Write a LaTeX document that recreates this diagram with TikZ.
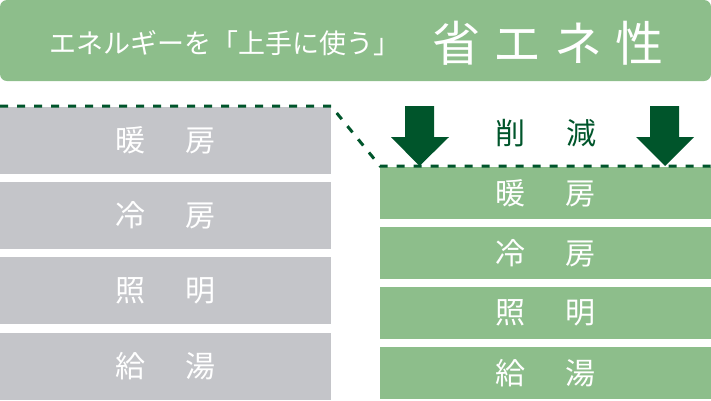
\documentclass[tikz,border=0pt]{standalone}
\usepackage{fontspec}
\setmainfont{Noto Sans CJK JP}
\definecolor{leaf}{HTML}{8DBE8B}
\definecolor{ash}{HTML}{C4C5C9}
\definecolor{pine}{HTML}{00552B}
\newcommand{\wide}{\hspace{41pt}}
\newcommand{\tsp}{\hspace{13pt}}

\begin{document}
\begin{tikzpicture}[x=1pt,y=-1pt,
  usebox/.style={fill=ash, text=white, minimum width=331pt, minimum height=67pt,
    inner sep=0pt, font=\fontsize{30}{30}\selectfont},
  cutbox/.style={fill=leaf, text=white, minimum width=331pt, minimum height=52pt,
    inner sep=0pt, font=\fontsize{30}{30}\selectfont},
  downarrow/.style={fill=pine}]
  \useasboundingbox (0,0) rectangle (711,400);
  \fill[leaf, rounded corners=7pt] (0,0) rectangle (711,81);
  \node[text=white, font=\fontsize{27}{27}\selectfont] (lead) at (225,43) {エネルギーを「上手に使う」};
  \node[text=white, font=\fontsize{48}{48}\selectfont] (title) at (548,43) {省\tsp エ\tsp ネ\tsp 性};
  \node[usebox] (heatA) at (165.5,140.5) {暖\wide 房};
  \node[usebox] (coolA) at (165.5,215.5) {冷\wide 房};
  \node[usebox] (lightA) at (165.5,290.5) {照\wide 明};
  \node[usebox] (waterA) at (165.5,366.5) {給\wide 湯};
  \node[cutbox] (heatB) at (545.5,193) {暖\wide 房};
  \node[cutbox] (coolB) at (545.5,253) {冷\wide 房};
  \node[cutbox] (lightB) at (545.5,313) {照\wide 明};
  \node[cutbox] (waterB) at (545.5,373) {給\wide 湯};
  \node[text=pine, font=\fontsize{30}{30}\selectfont] (cut) at (546,133) {削\wide 減};
  \draw[pine, line width=3pt, dash pattern=on 8pt off 9pt]
    (0,106) -- (331,106) -- (380,166) -- (711,166);
  \fill[downarrow] (405,106) -- (434,106) -- (434,137) -- (449,137) -- (419.5,166)
    -- (391,137) -- (405,137) -- cycle;
  \fill[downarrow] (650,106) -- (679,106) -- (679,137) -- (694,137) -- (665,166)
    -- (636,137) -- (650,137) -- cycle;
\end{tikzpicture}
\end{document}
